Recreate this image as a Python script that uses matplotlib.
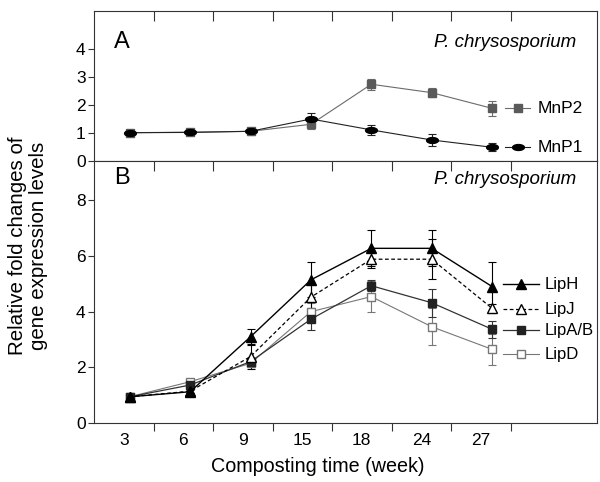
import numpy as np
import matplotlib
matplotlib.use("Agg")
import matplotlib.pyplot as plt
from matplotlib.path import Path

plt.rcParams["font.family"] = ["Liberation Sans", "DejaVu Sans"]

weeks = ["3", "6", "9", "15", "18", "24", "27"]

# panel A
mnp1 = [1.01, 1.02, 1.06, 1.50, 1.11, 0.75, 0.49]
mnp1_err = [0.04, 0.10, 0.10, 0.20, 0.18, 0.21, 0.14]
mnp2 = [1.01, 1.03, 1.06, 1.31, 2.74, 2.44, 1.88]
mnp2_err = [0.04, 0.08, 0.12, 0.17, 0.19, 0.16, 0.27]

# panel B
liph = [0.95, 1.13, 3.10, 5.14, 6.27, 6.27, 4.90]
liph_err = [0.05, 0.08, 0.28, 0.63, 0.65, 0.65, 0.89]
lipj = [0.95, 1.15, 2.39, 4.52, 5.88, 5.88, 4.12]
lipj_err = [0.05, 0.08, 0.44, 0.50, 0.30, 0.72, 0.15]
lipab = [0.95, 1.37, 2.21, 3.73, 4.93, 4.32, 3.37]
lipab_err = [0.05, 0.08, 0.12, 0.39, 0.20, 0.50, 0.30]
lipd = [0.95, 1.49, 2.15, 4.00, 4.54, 3.46, 2.65]
lipd_err = [0.05, 0.08, 0.12, 0.30, 0.55, 0.66, 0.56]

xs = np.arange(len(weeks)) * 1.015 + 0.1

t = np.linspace(0, 2 * np.pi, 41)
ellipse = Path(np.column_stack([np.cos(t), 0.5 * np.sin(t)]))

fig = plt.figure(figsize=(6, 4.82), dpi=100)
axA = fig.add_axes([0.1567, 0.666, 0.838, 0.312])
axB = fig.add_axes([0.1567, 0.1218, 0.838, 0.5442])

spine_c = "#333333"
for ax in (axA, axB):
    for s in ax.spines.values():
        s.set_color(spine_c)
        s.set_linewidth(0.8)
    ax.set_xlim(-0.5, 7.95)
    ax.set_xticks(np.arange(7) + 0.5)
    ax.tick_params(axis="y", direction="out", length=4, width=0.8,
                   color=spine_c, labelsize=12.5, pad=2)

axA.tick_params(axis="x", which="major", top=True, bottom=False,
                direction="in", length=7, width=0.8, color=spine_c,
                labelbottom=False)
# top ticks inward, bottom ticks outward for panel B
axB.tick_params(axis="x", which="major", top=True, bottom=True,
                direction="in", length=7, width=0.8, color=spine_c,
                labelbottom=False)
for tk in axB.xaxis.get_major_ticks():
    tk.tick1line.set_marker(3)
    tk.tick1line.set_markersize(6)
axB.set_xticks(np.arange(7), labels=weeks, minor=True)
axB.tick_params(axis="x", which="minor", length=0, labelsize=12.5, pad=7)

axA.set_ylim(0, 5.37)
axA.set_yticks([0, 1, 2, 3, 4])
axB.set_ylim(0, 9.4)
axB.set_yticks([0, 2, 4, 6, 8])

ebk = dict(capsize=3, elinewidth=0.8, capthick=0.8)

# panel A lines
axA.errorbar(xs, mnp2, yerr=mnp2_err, color="#6b6b6b", lw=0.8, marker="s",
             ms=5.5, mfc="#5a5a5a", mec="#5a5a5a", ecolor="#6b6b6b", **ebk)
axA.errorbar(xs, mnp1, yerr=mnp1_err, color="#222222", lw=0.8, marker=ellipse,
             ms=8.5, mfc="black", mec="black", ecolor="#222222", **ebk)

# panel B lines
axB.errorbar(xs, lipd, yerr=lipd_err, color="#777777", lw=0.8, marker="s",
             ms=6, mfc="white", mec="#777777", ecolor="#777777", **ebk)
axB.errorbar(xs, lipab, yerr=lipab_err, color="#333333", lw=0.9, marker="s",
             ms=6, mfc="#222222", mec="#222222", ecolor="#333333", **ebk)
axB.errorbar(xs, lipj, yerr=lipj_err, color="black", lw=0.9, ls=(0, (3, 2)),
             marker="^", ms=7, mfc="white", mec="black", ecolor="black", **ebk)
axB.errorbar(xs, liph, yerr=liph_err, color="black", lw=1.0, marker="^",
             ms=7, mfc="black", mec="black", ecolor="black", **ebk)

# inline legends next to last points
axA.plot([6.41, 6.83], [mnp2[-1]] * 2, color="#6b6b6b", lw=0.8)
axA.plot([6.62], [mnp2[-1]], marker="s", ms=5.5, color="#5a5a5a")
axA.text(6.95, mnp2[-1], "MnP2", va="center", fontsize=12.5)
axA.plot([6.41, 6.83], [mnp1[-1]] * 2, color="#222222", lw=0.8)
axA.plot([6.62], [mnp1[-1]], marker=ellipse, ms=8.5, color="black")
axA.text(6.95, mnp1[-1], "MnP1", va="center", fontsize=12.5)

leg_y = [4.98, 4.09, 3.34, 2.48]
axB.plot([6.38, 6.98], [leg_y[0]] * 2, color="black", lw=1.0)
axB.plot([6.68], [leg_y[0]], marker="^", ms=7, color="black")
axB.text(7.08, leg_y[0], "LipH", va="center", fontsize=12)
axB.plot([6.38, 6.98], [leg_y[1]] * 2, color="black", lw=0.9, ls=(0, (3, 2)))
axB.plot([6.68], [leg_y[1]], marker="^", ms=7, mfc="white", mec="black")
axB.text(7.08, leg_y[1], "LipJ", va="center", fontsize=12)
axB.plot([6.38, 6.98], [leg_y[2]] * 2, color="#333333", lw=0.9)
axB.plot([6.68], [leg_y[2]], marker="s", ms=6, color="#222222")
axB.text(7.08, leg_y[2], "LipA/B", va="center", fontsize=12)
axB.plot([6.38, 6.98], [leg_y[3]] * 2, color="#777777", lw=0.8)
axB.plot([6.68], [leg_y[3]], marker="s", ms=6, mfc="white", mec="#777777")
axB.text(7.08, leg_y[3], "LipD", va="center", fontsize=12)

axA.text(0.04, 0.79, "A", transform=axA.transAxes, fontsize=17, va="center")
axB.text(0.04, 0.935, "B", transform=axB.transAxes, fontsize=17, va="center")
axA.text(0.96, 0.79, "P. chrysosporium", transform=axA.transAxes,
         fontsize=13.5, style="italic", ha="right", va="center")
axB.text(0.96, 0.93, "P. chrysosporium", transform=axB.transAxes,
         fontsize=13.5, style="italic", ha="right", va="center")

fig.text(0.047, 0.49, "Relative fold changes of\ngene expression levels",
         rotation=90, ha="center", va="center", fontsize=14.8,
         linespacing=1.15)
fig.text(0.53, 0.033, "Composting time (week)", ha="center", va="center",
         fontsize=14.2)

fig.savefig("out.png", dpi=100)
